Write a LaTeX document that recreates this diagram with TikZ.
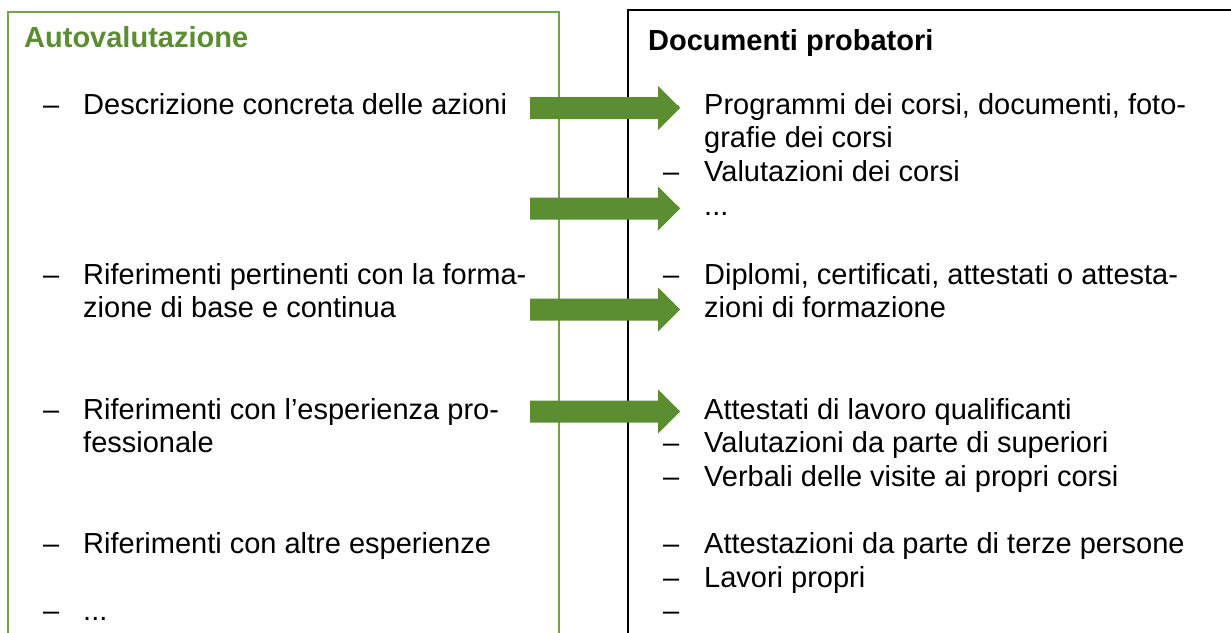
\documentclass[tikz,border=0pt]{standalone}
\usepackage{fontspec}
\setmainfont{Liberation Sans}
\definecolor{arrowgreen}{HTML}{5B8D31}
\definecolor{boxgreen}{HTML}{6FA546}
\definecolor{headgreen}{HTML}{5B8D31}
\tikzset{
  txt/.style={anchor=base west, inner sep=0pt, font=\fontsize{29}{33.5}\selectfont},
  headtxt/.style={txt, font=\fontsize{29}{33.5}\selectfont\bfseries},
  bigarrow/.style={fill=arrowgreen, draw=none},
}
\begin{document}
\begin{tikzpicture}[x=1pt,y=-1pt]
\useasboundingbox (0,0) rectangle (1231,632);
% boxes
\draw[boxgreen, line width=2pt] (8,660) -- (8,12) -- (559,12) -- (559,660);
\draw[black, line width=2pt] (628,660) -- (628,10) -- (1240,10);
% headings
\node[headtxt, text=headgreen] (hl) at (24,47) {Autovalutazione};
\node[headtxt] (hr) at (648,50) {Documenti probatori};
% left column
\node[txt] (ld1) at (43,114) {--};
\node[txt] (l1a) at (83,114) {Descrizione concreta delle azioni};
\node[txt] (ld2) at (43,284) {--};
\node[txt] (l2a) at (83,284) {Riferimenti pertinenti con la forma-};
\node[txt] (l2b) at (83,317.5) {zione di base e continua};
\node[txt] (ld3) at (43,419) {--};
\node[txt] (l3a) at (83,419) {Riferimenti con l’esperienza pro-};
\node[txt] (l3b) at (83,452.5) {fessionale};
\node[txt] (ld4) at (43,553) {--};
\node[txt] (l4a) at (83,553) {Riferimenti con altre esperienze};
\node[txt] (ld5) at (43,620) {--};
\node[txt] (l5a) at (83,620) {...};
% right column
\node[txt] (rd1) at (663,114) {--};
\node[txt] (r1a) at (704,114) {Programmi dei corsi, documenti, foto-};
\node[txt] (r1b) at (704,147.5) {grafie dei corsi};
\node[txt] (rd2) at (663,181) {--};
\node[txt] (r2a) at (704,181) {Valutazioni dei corsi};
\node[txt] (rd3) at (663,215) {--};
\node[txt] (r3a) at (704,215) {...};
\node[txt] (rd4) at (663,284) {--};
\node[txt] (r4a) at (704,284) {Diplomi, certificati, attestati o attesta-};
\node[txt] (r4b) at (704,317.5) {zioni di formazione};
\node[txt] (rd5) at (663,419) {--};
\node[txt] (r5a) at (704,419) {Attestati di lavoro qualificanti};
\node[txt] (rd6) at (663,452.5) {--};
\node[txt] (r6a) at (704,452.5) {Valutazioni da parte di superiori};
\node[txt] (rd7) at (663,486) {--};
\node[txt] (r7a) at (704,486) {Verbali delle visite ai propri corsi};
\node[txt] (rd8) at (663,553) {--};
\node[txt] (r8a) at (704,553) {Attestazioni da parte di terze persone};
\node[txt] (rd9) at (663,587) {--};
\node[txt] (r9a) at (704,587) {Lavori propri};
\node[txt] (rd10) at (663,620) {--};
% arrows
\foreach \c in {108,208.5,309.5,411.5}{
  \fill[bigarrow] (530,\c-11) -- (658,\c-11) -- (658,\c-22) -- (680,\c)
     -- (658,\c+22) -- (658,\c+11) -- (530,\c+11) -- cycle;
}
\end{tikzpicture}
\end{document}
